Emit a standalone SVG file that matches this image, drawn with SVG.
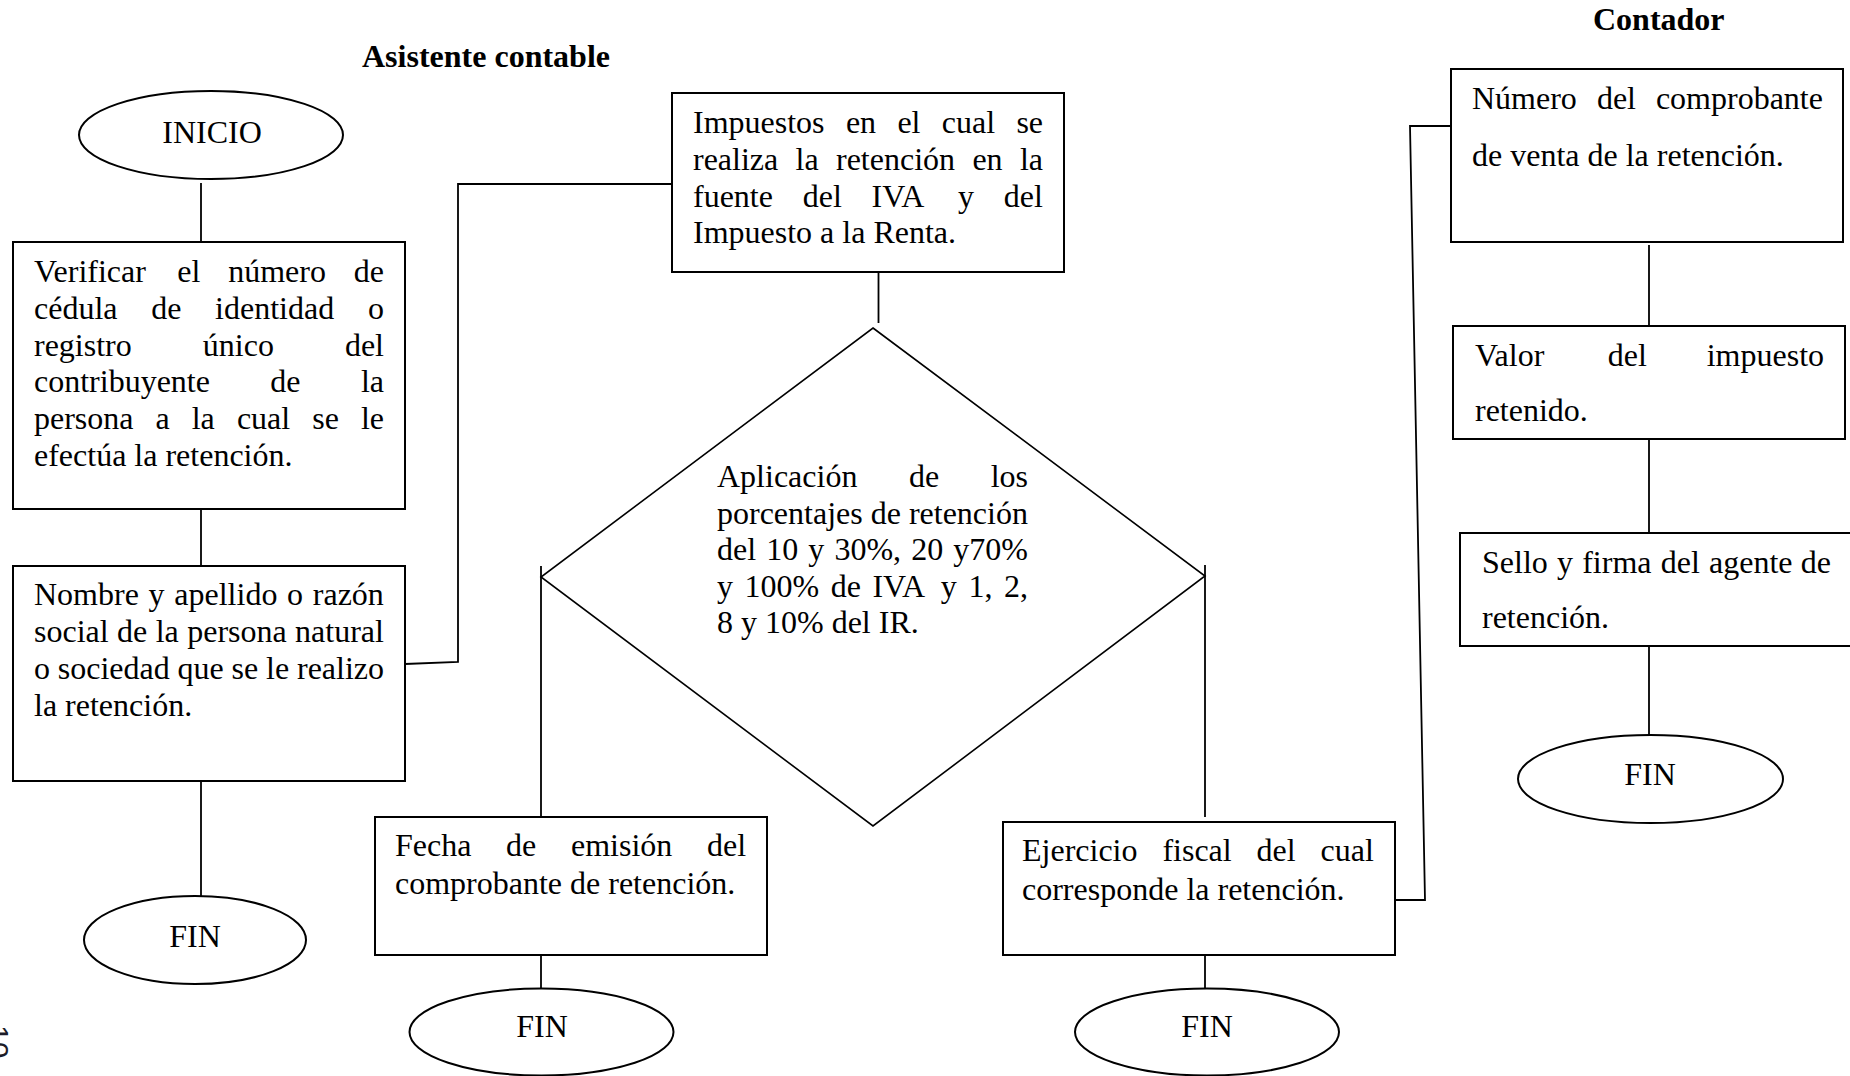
<svg xmlns="http://www.w3.org/2000/svg" width="1850" height="1076" viewBox="0 0 1850 1076">
  <style>
    .box { fill: #ffffff; stroke: #000000; stroke-width: 2; }
    .term { fill: #ffffff; stroke: #000000; stroke-width: 2; }
    .dec { fill: none; stroke: #000000; stroke-width: 1.6; }
    .wire { fill: none; stroke: #000000; stroke-width: 1.8; }
    .t { font-family: "Liberation Serif", "Times New Roman", serif; font-size: 32px; fill: #000000; }
    .h { font-family: "Liberation Serif", "Times New Roman", serif; font-size: 32px; font-weight: bold; fill: #000000; }
    .c { text-anchor: middle; }
  </style>
  <rect x="0" y="0" width="1850" height="1076" fill="#ffffff"/>

  <!-- lane headings -->
  <text class="h" x="362" y="67">Asistente contable</text>
  <text class="h" x="1593" y="30">Contador</text>

  <!-- connectors -->
  <g id="connectors">
    <line class="wire" x1="201" y1="183" x2="201" y2="242"/>
    <line class="wire" x1="201" y1="509" x2="201" y2="566"/>
    <line class="wire" x1="201" y1="781" x2="201" y2="897"/>
    <polyline class="wire" points="405,664 458,662 458,184 672,184"/>
    <line class="wire" x1="878.5" y1="272" x2="878.5" y2="323"/>
    <line class="wire" x1="541" y1="566" x2="541" y2="817"/>
    <line class="wire" x1="541" y1="955" x2="541" y2="988"/>
    <line class="wire" x1="1205" y1="565" x2="1205" y2="817"/>
    <line class="wire" x1="1205" y1="955" x2="1205" y2="988"/>
    <polyline class="wire" points="1395,900 1425,900 1410,126 1451,126"/>
    <line class="wire" x1="1649" y1="245" x2="1649" y2="326"/>
    <line class="wire" x1="1649" y1="439" x2="1649" y2="533"/>
    <line class="wire" x1="1649" y1="646" x2="1649" y2="735"/>
  </g>

  <!-- start -->
  <g id="inicio">
    <ellipse class="term" cx="211" cy="135" rx="132" ry="44"/>
    <text class="t c" x="212" y="143">INICIO</text>
  </g>

  <!-- step: verify identity number -->
  <g id="verificar">
    <rect class="box" x="13" y="242" width="392" height="267"/>
    <text class="t" y="282"><tspan x="34">Verificar</tspan><tspan x="177.3">el</tspan><tspan x="228.2">número</tspan><tspan x="353.8">de</tspan></text>
    <text class="t" y="318.8"><tspan x="34">cédula</tspan><tspan x="151.2">de</tspan><tspan x="215.1">identidad</tspan><tspan x="367.9">o</tspan></text>
    <text class="t" y="355.6"><tspan x="34">registro</tspan><tspan x="202.8">único</tspan><tspan x="344.9">del</tspan></text>
    <text class="t" y="392.4"><tspan x="34">contribuyente</tspan><tspan x="270.3">de</tspan><tspan x="360.9">la</tspan></text>
    <text class="t" y="429.2"><tspan x="34">persona</tspan><tspan x="155.5">a</tspan><tspan x="191.7">la</tspan><tspan x="236.9">cual</tspan><tspan x="312.2">se</tspan><tspan x="360.9">le</tspan></text>
    <text class="t" x="34" y="466">efectúa la retención.</text>
  </g>

  <!-- step: name of the withheld party -->
  <g id="nombre">
    <rect class="box" x="13" y="566" width="392" height="215"/>
    <text class="t" y="605"><tspan x="34">Nombre</tspan><tspan x="148.6">y</tspan><tspan x="174.3">apellido</tspan><tspan x="287.1">o</tspan><tspan x="312.8">razón</tspan></text>
    <text class="t" y="642"><tspan x="34">social</tspan><tspan x="117.1">de</tspan><tspan x="155.7">la</tspan><tspan x="187.2">persona</tspan><tspan x="295.1">natural</tspan></text>
    <text class="t" y="679"><tspan x="34">o</tspan><tspan x="57.8">sociedad</tspan><tspan x="177.6">que</tspan><tspan x="231.6">se</tspan><tspan x="266.1">le</tspan><tspan x="297">realizo</tspan></text>
    <text class="t" x="34" y="716">la retención.</text>
  </g>

  <g id="fin-1">
    <ellipse class="term" cx="195" cy="940" rx="111" ry="44"/>
    <text class="t c" x="195" y="947">FIN</text>
  </g>

  <!-- step: taxes withheld -->
  <g id="impuestos">
    <rect class="box" x="672" y="93" width="392" height="179"/>
    <text class="t" y="133"><tspan x="693">Impuestos</tspan><tspan x="845.9">en</tspan><tspan x="897.4">el</tspan><tspan x="941.8">cual</tspan><tspan x="1016.4">se</tspan></text>
    <text class="t" y="169.8"><tspan x="693">realiza</tspan><tspan x="795.6">la</tspan><tspan x="836">retención</tspan><tspan x="972.4">en</tspan><tspan x="1019.9">la</tspan></text>
    <text class="t" y="206.6"><tspan x="693">fuente</tspan><tspan x="802.7">del</tspan><tspan x="871.5">IVA</tspan><tspan x="958.1">y</tspan><tspan x="1003.8">del</tspan></text>
    <text class="t" x="693" y="243.4">Impuesto a la Renta.</text>
  </g>

  <!-- decision: withholding percentages -->
  <g id="aplicacion">
    <polygon class="dec" points="873,328 1205,576 873,826 541,577"/>
    <text class="t" y="487"><tspan x="717">Aplicación</tspan><tspan x="908.9">de</tspan><tspan x="990.7">los</tspan></text>
    <text class="t" y="523.5"><tspan x="717">porcentajes</tspan><tspan x="870.7">de</tspan><tspan x="908.9">retención</tspan></text>
    <text class="t" y="560"><tspan x="717">del</tspan><tspan x="766.2">10</tspan><tspan x="808.3">y</tspan><tspan x="834.4">30%,</tspan><tspan x="911.2">20</tspan><tspan x="953.3">y70%</tspan></text>
    <text class="t" y="596.5"><tspan x="717">y</tspan><tspan x="744.5">100%</tspan><tspan x="830.7">de</tspan><tspan x="872.4">IVA</tspan><tspan x="940.8">y</tspan><tspan x="968.4">1,</tspan><tspan x="1003.9">2,</tspan></text>
    <text class="t" x="717" y="633">8 y 10% del IR.</text>
  </g>

  <!-- step: issue date -->
  <g id="fecha">
    <rect class="box" x="375" y="817" width="392" height="138"/>
    <text class="t" y="856"><tspan x="395">Fecha</tspan><tspan x="506.1">de</tspan><tspan x="571">emisión</tspan><tspan x="707">del</tspan></text>
    <text class="t" x="395" y="894">comprobante de retención.</text>
  </g>

  <g id="fin-2">
    <ellipse class="term" cx="541.5" cy="1032" rx="132" ry="43.5"/>
    <text class="t c" x="542" y="1037">FIN</text>
  </g>

  <!-- step: fiscal year -->
  <g id="ejercicio">
    <rect class="box" x="1003" y="822" width="392" height="133"/>
    <text class="t" y="861"><tspan x="1022">Ejercicio</tspan><tspan x="1162.4">fiscal</tspan><tspan x="1256.6">del</tspan><tspan x="1320.6">cual</tspan></text>
    <text class="t" x="1022" y="900">corresponde la retención.</text>
  </g>

  <g id="fin-3">
    <ellipse class="term" cx="1207" cy="1032" rx="132" ry="43.5"/>
    <text class="t c" x="1207" y="1037">FIN</text>
  </g>

  <!-- accountant lane -->
  <g id="numero">
    <rect class="box" x="1451" y="69" width="392" height="173"/>
    <text class="t" y="109"><tspan x="1472">Número</tspan><tspan x="1596.9">del</tspan><tspan x="1655.9">comprobante</tspan></text>
    <text class="t" x="1472" y="166">de venta de la retención.</text>
  </g>

  <g id="valor">
    <rect class="box" x="1453" y="326" width="392" height="113"/>
    <text class="t" y="366"><tspan x="1475">Valor</tspan><tspan x="1607.7">del</tspan><tspan x="1706.7">impuesto</tspan></text>
    <text class="t" x="1475" y="421">retenido.</text>
  </g>

  <!-- this box runs past the right margin -->
  <g id="sello">
    <rect class="box" x="1460" y="533" width="400" height="113"/>
    <text class="t" y="573"><tspan x="1482">Sello</tspan><tspan x="1557">y</tspan><tspan x="1582.2">firma</tspan><tspan x="1660.7">del</tspan><tspan x="1709">agente</tspan><tspan x="1800.7">de</tspan></text>
    <text class="t" x="1482" y="628">retención.</text>
  </g>

  <g id="fin-4">
    <ellipse class="term" cx="1650.5" cy="779" rx="132.5" ry="44"/>
    <text class="t c" x="1650" y="785">FIN</text>
  </g>

  <!-- page number along the left margin -->
  <text transform="translate(-12,1025) rotate(90)" font-family="Liberation Sans, Arial, sans-serif" font-size="30" fill="#1c1c28">10</text>
</svg>
